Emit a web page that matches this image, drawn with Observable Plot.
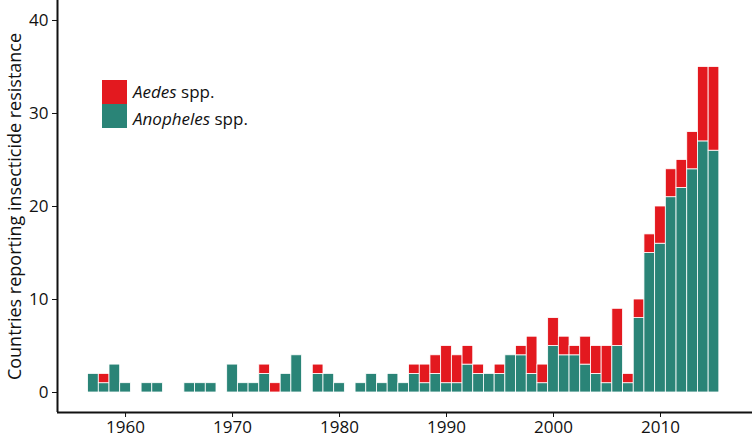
<!DOCTYPE html>
<html><head><meta charset="utf-8">
<script src="https://cdn.jsdelivr.net/npm/d3@7"></script>
<script src="https://cdn.jsdelivr.net/npm/@observablehq/plot@0.6"></script>
<style>
body{margin:0;background:#fff;}
#wrap{position:relative;width:752px;height:441px;font-family:"Open Sans",sans-serif;}
.legend{position:absolute;left:102px;top:80px;font-size:17px;line-height:24px;color:#111;}
.row{display:flex;align-items:center;height:24px;}
.sw{width:25px;height:24px;margin-right:6px;}
.row2 span{position:relative;top:3px;}
</style></head>
<body><div id="wrap"></div>
<script>
const years     = [1957,1958,1959,1960,1962,1963,1966,1967,1968,1970,1971,1972,1973,1974,1975,1976,1978,1979,1980,1982,1983,1984,1985,1986,1987,1988,1989,1990,1991,1992,1993,1994,1995,1996,1997,1998,1999,2000,2001,2002,2003,2004,2005,2006,2007,2008,2009,2010,2011,2012,2013,2014,2015];
const anopheles = [2,1,3,1,1,1,1,1,1,3,1,1,2,0,2,4,2,2,1,1,2,1,2,1,2,1,2,1,1,3,2,2,2,4,4,2,1,5,4,4,3,2,1,5,1,8,15,16,21,22,24,27,26];
const aedes     = [0,1,0,0,0,0,0,0,0,0,0,0,1,1,0,0,1,0,0,0,0,0,0,0,1,2,2,4,3,2,1,0,1,0,1,4,2,3,2,1,3,3,4,4,1,2,2,4,3,3,4,8,9];
const species = ["Anopheles spp.","Aedes spp."];
const colors = ["#2a8477","#e3191f"];
const yTicks = [0,10,20,30,40];
const xTicks = [1960,1970,1980,1990,2000,2010];
const xDomain = [1953.64, 2018.6];
const yDomain = [-2.15, 42.15];
const yTitle = "Countries reporting insecticide resistance";

const rows = [];
years.forEach((y,i)=>{
  rows.push({year:y, species:species[0], lo:0, hi:anopheles[i]});
  rows.push({year:y, species:species[1], lo:anopheles[i], hi:anopheles[i]+aedes[i]});
});
const data = rows.filter(d=>d.hi>d.lo);

const chart = Plot.plot({
  width:752, height:441,
  marginLeft:57, marginRight:0, marginTop:0, marginBottom:29,
  style:{fontSize:"17px", fontFamily:"'Open Sans', sans-serif", color:"#111", background:"white"},
  x:{domain:xDomain},
  y:{domain:yDomain},
  color:{domain:species, range:colors},
  marks:[
    Plot.rect(data,{x1:d=>d.year-0.5, x2:d=>d.year+0.5, y1:"lo", y2:"hi", fill:"species", stroke:"white", strokeWidth:0.8}),
    Plot.axisX({ticks:xTicks, tickFormat:d=>String(d), tickSize:5, tickPadding:3, label:null, stroke:"#111", fontSize:17}),
    Plot.axisY({ticks:yTicks, tickSize:5, tickPadding:4, label:null, fontSize:17}),
    Plot.text([yTitle],{frameAnchor:"left", textAnchor:"middle", rotate:-90, dx:-42, fontSize:18, fill:"#111"}),
    Plot.ruleX([xDomain[0]],{stroke:"#111", strokeWidth:2}),
    Plot.ruleY([yDomain[0]],{stroke:"#111", strokeWidth:2})
  ]
});
const wrap = document.getElementById("wrap");
wrap.appendChild(chart);
const leg = document.createElement("div");
leg.className="legend";
leg.innerHTML = `<div class="row"><div class="sw" style="background:${colors[1]}"></div><span><i>Aedes</i> spp.</span></div>
<div class="row row2"><div class="sw" style="background:${colors[0]}"></div><span><i>Anopheles</i> spp.</span></div>`;
wrap.appendChild(leg);
</script></body></html>
